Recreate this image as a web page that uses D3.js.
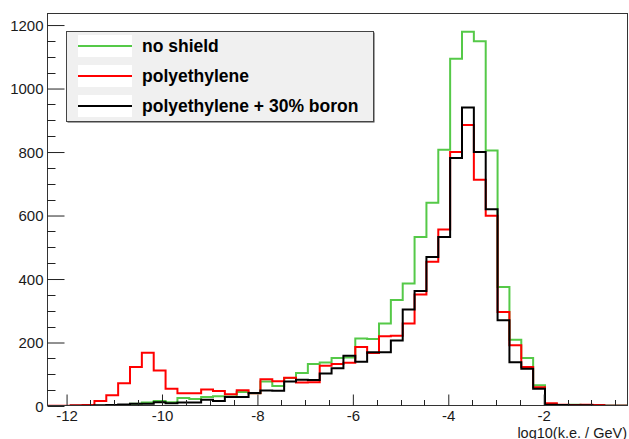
<!DOCTYPE html>
<html>
<head>
<meta charset="utf-8">
<script src="https://cdn.jsdelivr.net/npm/d3@7"></script>
<style>
  html, body { margin: 0; padding: 0; background: #fff; }
  svg { display: block; font-family: "Liberation Sans", Arial, Helvetica, sans-serif; }
</style>
</head>
<body>
<svg id="chart" width="629" height="439"></svg>
<script>
// Histogram binning: 49 equal bins in log10(kinetic energy / GeV)
const binLow = -12.41;
const binWidth = 0.2485;

// Counts per bin
const noShield = [
  0, 0, 0, 0, 1, 1, 2, 7, 11, 16,
  12, 25, 22, 28, 31, 30, 44, 40, 77, 63,
  88, 104, 132, 137, 151, 153, 213, 211, 260, 334,
  386, 532, 640, 807, 1094, 1179, 1149, 805, 375, 209,
  151, 65, 2, 3, 4, 3, 2, 1, 1
];
const polyethylene = [
  1, 1, 2, 3, 16, 34, 72, 123, 168, 112,
  54, 40, 40, 52, 47, 37, 50, 40, 84, 78,
  89, 74, 75, 127, 132, 136, 186, 167, 220, 221,
  260, 351, 454, 556, 800, 885, 713, 599, 296, 191,
  123, 59, 9, 4, 3, 4, 3, 1, 1
];
const polyBoron = [
  0, 0, 1, 1, 2, 3, 5, 7, 7, 12,
  9, 11, 11, 20, 16, 28, 28, 41, 49, 48,
  77, 83, 82, 102, 119, 158, 139, 169, 169, 206,
  304, 362, 469, 532, 781, 940, 800, 620, 270, 138,
  117, 54, 4, 3, 2, 2, 1, 1, 1
];

const seriesNames = ["no shield", "polyethylene", "polyethylene + 30% boron"];
const seriesColors = ["#55c948", "#ff0000", "#000000"];

const xTickValues = [-12, -10, -8, -6, -4, -2];
const yTickValues = [0, 200, 400, 600, 800, 1000, 1200];
const xTitle = "log10(k.e. / GeV)";

const svg = d3.select("#chart");
const frame = { left: 47, right: 628, top: 13, bottom: 406 };

const nBins = noShield.length;
const xMax = binLow + nBins * binWidth;
const yMax = 1.05 * d3.max(noShield);

const x = d3.scaleLinear().domain([binLow, xMax]).range([frame.left, frame.right]);
const y = d3.scaleLinear().domain([0, yMax]).range([frame.bottom, frame.top]);

// Step outline of a histogram, starting and ending on the baseline
function stepPath(values) {
  const pts = [[x(binLow), y(0)]];
  values.forEach((v, i) => {
    const x0 = x(binLow + i * binWidth), x1 = x(binLow + (i + 1) * binWidth);
    pts.push([x0, y(v)], [x1, y(v)]);
  });
  pts.push([x(xMax), y(0)]);
  return d3.line()(pts);
}

svg.append("clipPath").attr("id", "frameClip")
  .append("rect")
  .attr("x", frame.left).attr("y", frame.top)
  .attr("width", frame.right - frame.left).attr("height", frame.bottom - frame.top);

const plot = svg.append("g").attr("clip-path", "url(#frameClip)");
[noShield, polyethylene, polyBoron].forEach((vals, i) => {
  plot.append("path")
    .attr("d", stepPath(vals))
    .attr("fill", "none")
    .attr("stroke", seriesColors[i])
    .attr("stroke-width", 2)
    .attr("stroke-linejoin", "miter");
});

// Frame
svg.append("rect")
  .attr("x", frame.left + 0.5).attr("y", frame.top + 0.5)
  .attr("width", frame.right - frame.left - 1).attr("height", frame.bottom - frame.top - 1)
  .attr("fill", "none").attr("stroke", "#333").attr("stroke-width", 1);

// X axis: ticks inward from the bottom edge
const xAxis = d3.axisBottom(x)
  .tickValues(xTickValues)
  .tickSize(-11)
  .tickFormat(d3.format("d"));
const gx = svg.append("g").attr("transform", `translate(0,${frame.bottom - 0.5})`).call(xAxis);
gx.select(".domain").remove();
gx.selectAll(".tick line").attr("stroke", "#222");
gx.selectAll(".tick text")
  .attr("y", 15).attr("dy", 0)
  .attr("font-size", 15).attr("fill", "#1a1a1a")
  .attr("font-family", "Liberation Sans, Arial, sans-serif")
  .text(d => d < 0 ? "-" + Math.abs(d) : d);

const xMinor = d3.range(-12, xMax, 0.5).filter(v => !xTickValues.includes(v) && v >= binLow);
svg.append("g").selectAll("line").data(xMinor).join("line")
  .attr("x1", d => Math.round(x(d)) + 0.5).attr("x2", d => Math.round(x(d)) + 0.5)
  .attr("y1", frame.bottom).attr("y2", frame.bottom - 6)
  .attr("stroke", "#222");

// Y axis: ticks inward from the left edge
const yAxis = d3.axisLeft(y)
  .tickValues(yTickValues)
  .tickSize(-17)
  .tickFormat(d3.format("d"));
const gy = svg.append("g").attr("transform", `translate(${frame.left + 0.5},0)`).call(yAxis);
gy.select(".domain").remove();
gy.selectAll(".tick line").attr("stroke", "#222");
gy.selectAll(".tick text")
  .attr("x", -4).attr("dy", "0.36em")
  .attr("font-size", 15).attr("fill", "#1a1a1a")
  .attr("font-family", "Liberation Sans, Arial, sans-serif");

const yMinor = d3.range(0, yMax, 50).filter(v => v % 200 !== 0);
svg.append("g").selectAll("line").data(yMinor).join("line")
  .attr("x1", frame.left).attr("x2", frame.left + 8.5)
  .attr("y1", d => Math.round(y(d)) + 0.5).attr("y2", d => Math.round(y(d)) + 0.5)
  .attr("stroke", "#222");

// Axis title
svg.append("text")
  .attr("x", 627).attr("y", 437.5)
  .attr("text-anchor", "end")
  .attr("font-size", 14.5).attr("fill", "#1a1a1a")
  .text(xTitle);

// Legend
const legend = svg.append("g");
const lg = { x: 66, y: 31, w: 307, h: 90 };
legend.append("rect")
  .attr("x", lg.x + 1.5).attr("y", lg.y + 1.5).attr("width", lg.w).attr("height", lg.h)
  .attr("fill", "#444");
legend.append("rect")
  .attr("x", lg.x + 0.5).attr("y", lg.y + 0.5).attr("width", lg.w).attr("height", lg.h)
  .attr("fill", "#f0f0f0").attr("stroke", "#444").attr("stroke-width", 1);

const rowY = [46, 76, 106];
seriesNames.forEach((name, i) => {
  legend.append("rect")
    .attr("x", 78).attr("y", rowY[i] - 11).attr("width", 54).attr("height", 22)
    .attr("fill", "#fff");
  legend.append("line")
    .attr("x1", 78).attr("x2", 132)
    .attr("y1", rowY[i]).attr("y2", rowY[i])
    .attr("stroke", seriesColors[i]).attr("stroke-width", 2);
  legend.append("text")
    .attr("x", 142).attr("y", rowY[i] + 6)
    .attr("font-size", 17.5).attr("font-weight", "bold").attr("fill", "#000")
    .text(name);
});
</script>
</body>
</html>
